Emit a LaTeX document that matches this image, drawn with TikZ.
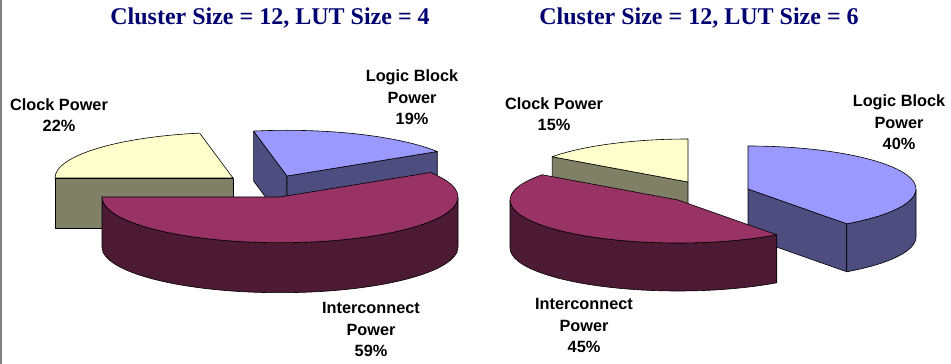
\documentclass[tikz,border=0pt]{standalone}
\usepackage{fontspec}
\setmainfont{Liberation Serif}
\newfontfamily\arialf{Liberation Sans}
\usetikzlibrary{calc}
\definecolor{cltop}{HTML}{FFFFCC}
\definecolor{clside}{HTML}{808066}
\definecolor{lgtop}{HTML}{9999FF}
\definecolor{lgside}{HTML}{4D4D80}
\definecolor{ictop}{HTML}{993366}
\definecolor{icside}{HTML}{4D1A33}
\definecolor{navytxt}{HTML}{000070}
\begin{document}
\begin{tikzpicture}[x=1pt,y=1pt,line join=round,
  titletxt/.style={font=\fontsize{24}{28}\selectfont\bfseries, text=navytxt, inner sep=0pt, anchor=base},
  lbl/.style={font=\arialf\fontsize{16.3}{21.5}\selectfont\bfseries, align=center, inner sep=0pt, anchor=base},
  edge/.style={draw=black, line width=0.6pt},
  ellA/.style={x radius=178pt, y radius=45.7pt},
  ellB/.style={x radius=168pt, y radius=43pt}]
\useasboundingbox (0,0) rectangle (951,364);
\draw[gray, line width=1.5pt] (0.75,0) -- (0.75,364);

% titles
\node[titletxt] (t1) at (270,339) {Cluster Size = 12, LUT Size = 4};
\node[titletxt] (t2) at (699,339) {Cluster Size = 12, LUT Size = 6};

% ---------- left pie ----------
\coordinate (C1) at (233,186);
\coordinate (L1) at (287,188);
\coordinate (I1) at (280,167);
% clock
\filldraw[edge, fill=clside] (C1) -- ($(C1)+(180:178pt and 45.7pt)$) -- ++(0,-50) -- ($(C1)+(0,-50)$) -- cycle;
\filldraw[edge, fill=cltop] (C1) -- ($(C1)+(100.8:178pt and 45.7pt)$) arc[ellA, start angle=100.8, end angle=180] -- cycle;
% logic
\filldraw[edge, fill=lgside] (L1) -- ($(L1)+(100.8:178pt and 45.7pt)$) -- ++(0,-50) -- ($(L1)+(0,-50)$) -- cycle;
\filldraw[edge, fill=lgside] (L1) -- ($(L1)+(32.4:178pt and 45.7pt)$) -- ++(0,-50) -- ($(L1)+(0,-50)$) -- cycle;
\filldraw[edge, fill=lgtop] (L1) -- ($(L1)+(32.4:178pt and 45.7pt)$) arc[ellA, start angle=32.4, end angle=100.8] -- cycle;
% interconnect
\filldraw[edge, fill=icside] ($(I1)+(180:178pt and 45.7pt)$) arc[ellA, start angle=180, end angle=360] -- ++(0,-50) arc[ellA, start angle=360, end angle=180] -- cycle;
\filldraw[edge, fill=ictop] (I1) -- ($(I1)+(32.4:178pt and 45.7pt)$) arc[ellA, start angle=32.4, end angle=-180] -- cycle;

% ---------- right pie ----------
\coordinate (C2) at (688,182);
\coordinate (L2) at (748,175);
\coordinate (I2) at (678,164);
% clock
\filldraw[edge, fill=clside] (C2) -- ($(C2)+(144:168pt and 43pt)$) -- ++(0,-48) -- ($(C2)+(0,-48)$) -- cycle;
\filldraw[edge, fill=cltop] (C2) -- ($(C2)+(90:168pt and 43pt)$) arc[ellB, start angle=90, end angle=144] -- cycle;
% logic
\filldraw[edge, fill=lgside] (L2) -- ($(L2)+(-54:168pt and 43pt)$) -- ++(0,-48) -- ($(L2)+(0,-48)$) -- cycle;
\filldraw[edge, fill=lgside] ($(L2)+(-54:168pt and 43pt)$) arc[ellB, start angle=-54, end angle=0] -- ++(0,-48) arc[ellB, start angle=0, end angle=-54] -- cycle;
\filldraw[edge, fill=lgtop] (L2) -- ($(L2)+(-54:168pt and 43pt)$) arc[ellB, start angle=-54, end angle=90] -- cycle;
% interconnect
\filldraw[edge, fill=icside] ($(I2)+(180:168pt and 43pt)$) arc[ellB, start angle=180, end angle=306] -- ++(0,-48) arc[ellB, start angle=306, end angle=180] -- cycle;
\filldraw[edge, fill=ictop] (I2) -- ($(I2)+(144:168pt and 43pt)$) arc[ellB, start angle=144, end angle=306] -- cycle;

% labels (anchor = baseline of the last line)
\node[lbl] (lc1) at (59,232) {Clock Power\\22\%};
\node[lbl] (ll1) at (412,239) {Logic Block\\Power\\19\%};
\node[lbl] (li1) at (371,7) {Interconnect\\Power\\59\%};
\node[lbl] (lc2) at (554,233) {Clock Power\\15\%};
\node[lbl] (ll2) at (899,214) {Logic Block\\Power\\40\%};
\node[lbl] (li2) at (584,11) {Interconnect\\Power\\45\%};
\end{tikzpicture}
\end{document}
